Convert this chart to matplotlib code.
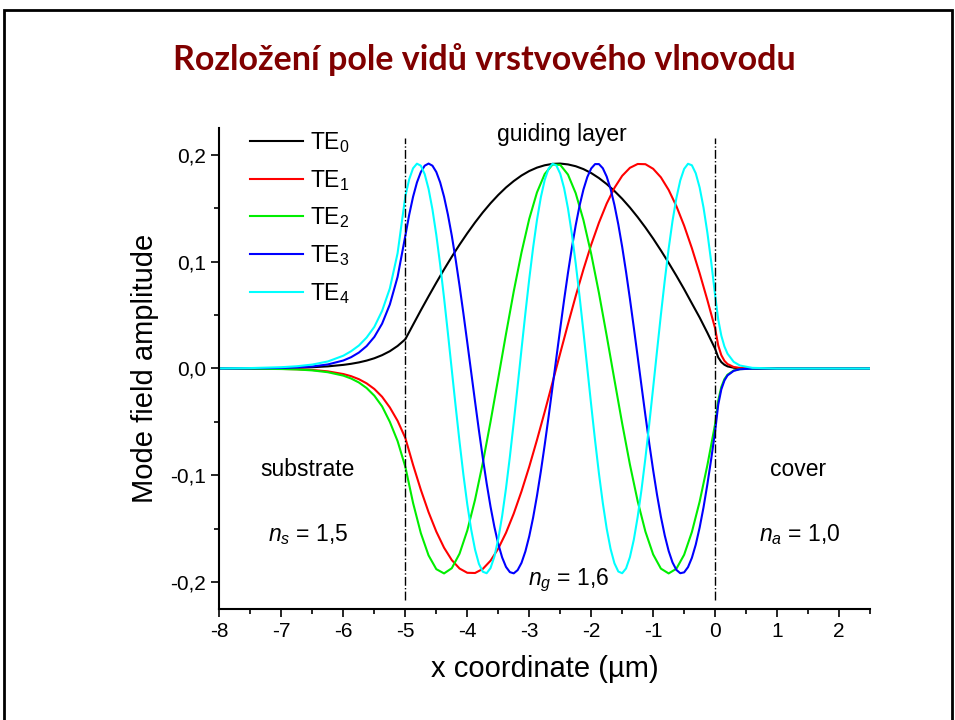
import matplotlib
matplotlib.use("Agg")
import matplotlib.pyplot as plt
from matplotlib.patches import Rectangle
from matplotlib.ticker import MultipleLocator
import numpy as np

# sample positions (um): substrate tail, guiding layer, cover tail
x_sub = [-8.0, -7.5, -7.0, -6.75, -6.5, -6.25, -6.0, -5.875, -5.75, -5.625,
         -5.5, -5.375, -5.25, -5.125]
x_core = [-5.0, -4.875, -4.75, -4.625, -4.5, -4.375, -4.25, -4.125, -4.0,
          -3.875, -3.75, -3.625, -3.5, -3.375, -3.25, -3.125, -3.0, -2.875,
          -2.75, -2.625, -2.5, -2.375, -2.25, -2.125, -2.0, -1.875, -1.75,
          -1.625, -1.5, -1.375, -1.25, -1.125, -1.0, -0.875, -0.75, -0.625,
          -0.5, -0.375, -0.25, -0.125, 0.0]
# finer spacing for the two highest modes
x_core_fine = [-5.0, -4.9375, -4.875, -4.8125, -4.75, -4.6875, -4.625, -4.5625,
               -4.5, -4.4375, -4.375, -4.3125, -4.25, -4.1875, -4.125, -4.0625,
               -4.0, -3.9375, -3.875, -3.8125, -3.75, -3.6875, -3.625, -3.5625,
               -3.5, -3.4375, -3.375, -3.3125, -3.25, -3.1875, -3.125, -3.0625,
               -3.0, -2.9375, -2.875, -2.8125, -2.75, -2.6875, -2.625, -2.5625,
               -2.5, -2.4375, -2.375, -2.3125, -2.25, -2.1875, -2.125, -2.0625,
               -2.0, -1.9375, -1.875, -1.8125, -1.75, -1.6875, -1.625, -1.5625,
               -1.5, -1.4375, -1.375, -1.3125, -1.25, -1.1875, -1.125, -1.0625,
               -1.0, -0.9375, -0.875, -0.8125, -0.75, -0.6875, -0.625, -0.5625,
               -0.5, -0.4375, -0.375, -0.3125, -0.25, -0.1875, -0.125, -0.0625,
               0.0]
x_cov = [0.05, 0.1, 0.15, 0.2, 0.3, 0.4, 0.6, 1.0, 2.5]

# mode amplitudes
te0_sub = [0.0001, 0.0002, 0.0004, 0.0007, 0.0012, 0.0020, 0.0034, 0.0044,
           0.0057, 0.0074, 0.0096, 0.0125, 0.0162, 0.0211]
te0_core = [0.0274, 0.0410, 0.0545, 0.0676, 0.0804, 0.0928, 0.1047, 0.1160,
            0.1267, 0.1368, 0.1462, 0.1548, 0.1626, 0.1696, 0.1756, 0.1808,
            0.1850, 0.1882, 0.1904, 0.1917, 0.1920, 0.1912, 0.1895, 0.1868,
            0.1831, 0.1784, 0.1728, 0.1663, 0.1590, 0.1508, 0.1418, 0.1321,
            0.1217, 0.1106, 0.0990, 0.0869, 0.0743, 0.0610, 0.0478, 0.0335,
            0.0185]
te0_cov = [0.0104, 0.0060, 0.0035, 0.0020, 0.0007, 0.0002, 0.0, 0.0, 0.0]

te1_sub = [0.0, -0.0001, -0.0004, -0.0007, -0.0014, -0.0027, -0.0052, -0.0072,
           -0.0100, -0.0139, -0.0192, -0.0265, -0.0365, -0.0490]
te1_core = [-0.0651, -0.0903, -0.1136, -0.1346, -0.1528, -0.1679, -0.1795,
            -0.1874, -0.1914, -0.1916, -0.1878, -0.1801, -0.1687, -0.1539,
            -0.1359, -0.1151, -0.0920, -0.0669, -0.0405, -0.0132, 0.0143,
            0.0415, 0.0679, 0.0929, 0.1160, 0.1366, 0.1545, 0.1692, 0.1805,
            0.1880, 0.1916, 0.1914, 0.1871, 0.1791, 0.1673, 0.1521, 0.1338,
            0.1127, 0.0893, 0.0641, 0.0376]
te1_cov = [0.0217, 0.0125, 0.0072, 0.0042, 0.0014, 0.0005, 0.0001, 0.0, 0.0]

te2_sub = [0.0, -0.0002, -0.0005, -0.0009, -0.0018, -0.0035, -0.0067, -0.0094,
           -0.0131, -0.0183, -0.0255, -0.0355, -0.0500, -0.0680]
te2_core = [-0.0921, -0.1260, -0.1542, -0.1751, -0.1880, -0.1920, -0.1871,
            -0.1735, -0.1518, -0.1230, -0.0886, -0.0499, -0.0090, 0.0324,
            0.0723, 0.1087, 0.1402, 0.1650, 0.1822, 0.1910, 0.1908, 0.1817,
            0.1642, 0.1390, 0.1073, 0.0707, 0.0307, -0.0106, -0.0515, -0.0900,
            -0.1243, -0.1528, -0.1742, -0.1875, -0.1920, -0.1876, -0.1745,
            -0.1532, -0.1248, -0.0906, -0.0521]
te2_cov = [-0.0301, -0.0173, -0.0100, -0.0058, -0.0019, -0.0006, -0.0001, 0.0, 0.0]

te3_sub = [0.0, 0.0001, 0.0005, 0.0010, 0.0019, 0.0038, 0.0075, 0.0106,
           0.0149, 0.0210, 0.0296, 0.0420, 0.0600, 0.0858]
te3_core = [0.1243, 0.1441, 0.1609, 0.1743, 0.1840, 0.1900, 0.1920, 0.1900,
            0.1841, 0.1743, 0.1609, 0.1441, 0.1244, 0.1020, 0.0775, 0.0515,
            0.0243, -0.0033, -0.0309, -0.0579, -0.0836, -0.1076, -0.1294,
            -0.1484, -0.1644, -0.1770, -0.1859, -0.1908, -0.1919, -0.1889,
            -0.1821, -0.1714, -0.1572, -0.1397, -0.1192, -0.0963, -0.0714,
            -0.0450, -0.0177, 0.0100, 0.0374, 0.0642, 0.0895, 0.1130, 0.1342,
            0.1526, 0.1677, 0.1794, 0.1874, 0.1915, 0.1915, 0.1876, 0.1798,
            0.1683, 0.1532, 0.1350, 0.1140, 0.0905, 0.0652, 0.0385, 0.0111,
            -0.0166, -0.0440, -0.0704, -0.0953, -0.1183, -0.1389, -0.1565,
            -0.1709, -0.1817, -0.1887, -0.1918, -0.1910, -0.1861, -0.1774,
            -0.1650, -0.1491, -0.1302, -0.1085, -0.0846, -0.0589]
te3_cov = [-0.0340, -0.0196, -0.0113, -0.0065, -0.0022, -0.0007, -0.0001, 0.0, 0.0]

te4_sub = [0.0001, 0.0004, 0.0012, 0.0021, 0.0037, 0.0066, 0.0120, 0.0162,
           0.0215, 0.0290, 0.0390, 0.0540, 0.0750, 0.1080]
te4_core = [0.1613, 0.1773, 0.1876, 0.1919, 0.1900, 0.1821, 0.1683, 0.1491,
            0.1251, 0.0972, 0.0661, 0.0329, -0.0014, -0.0356, -0.0687,
            -0.0996, -0.1273, -0.1508, -0.1696, -0.1830, -0.1904, -0.1918,
            -0.1870, -0.1762, -0.1597, -0.1382, -0.1122, -0.0826, -0.0503,
            -0.0165, 0.0179, 0.0517, 0.0838, 0.1133, 0.1392, 0.1605, 0.1767,
            0.1873, 0.1918, 0.1902, 0.1825, 0.1690, 0.1500, 0.1262, 0.0984,
            0.0674, 0.0343, 0.0000, -0.0343, -0.0674, -0.0984, -0.1261,
            -0.1500, -0.1690, -0.1825, -0.1902, -0.1918, -0.1873, -0.1767,
            -0.1605, -0.1391, -0.1133, -0.0839, -0.0517, -0.0179, 0.0165,
            0.0504, 0.0826, 0.1122, 0.1382, 0.1597, 0.1762, 0.1870, 0.1918,
            0.1904, 0.1829, 0.1696, 0.1509, 0.1273, 0.0996, 0.0687]
te4_cov = [0.0460, 0.0308, 0.0207, 0.0139, 0.0062, 0.0028, 0.0006, 0.0, 0.0]

mode_labels = ["TE$_0$", "TE$_1$", "TE$_2$", "TE$_3$", "TE$_4$"]
mode_colors = ["#000000", "#ff0000", "#00ee00", "#0000ff", "#00ffff"]

layer_edges = [-5.0, 0.0]
xticks = [-8, -7, -6, -5, -4, -3, -2, -1, 0, 1, 2]
yticks = [-0.2, -0.1, 0.0, 0.1, 0.2]
ytick_labels = ["-0,2", "-0,1", "0,0", "0,1", "0,2"]

plt.rcParams["font.family"] = ["Liberation Sans", "DejaVu Sans"]
plt.rcParams["mathtext.fontset"] = "custom"
plt.rcParams["mathtext.rm"] = "Liberation Sans"
plt.rcParams["mathtext.it"] = "Liberation Sans:italic"
plt.rcParams["axes.unicode_minus"] = False

fig = plt.figure(figsize=(9.55, 7.2), dpi=100)
fig.patches.append(Rectangle((4 / 955, -0.05), 948 / 955, 1.05 - 10 / 720,
                             transform=fig.transFigure, fill=False,
                             edgecolor="black", linewidth=2))
fig.text(0.507, 0.918, "Rozložení pole vidů vrstvového vlnovodu",
         ha="center", va="center", fontsize=24.5, fontweight="bold",
         color="#800000", family=["Lato", "DejaVu Sans"])

ax = fig.add_axes([0.2298, 0.1542, 0.6812, 0.668])

modes = [
    (x_core, te0_sub, te0_core, te0_cov),
    (x_core, te1_sub, te1_core, te1_cov),
    (x_core, te2_sub, te2_core, te2_cov),
    (x_core_fine, te3_sub, te3_core, te3_cov),
    (x_core_fine, te4_sub, te4_core, te4_cov),
]
for (xc, sub, core, cov), lab, col in zip(modes, mode_labels, mode_colors):
    xs = np.concatenate([x_sub, xc, x_cov])
    ys = np.concatenate([sub, core, cov])
    ax.plot(xs, ys, color=col, lw=1.5, label=lab)

for xe in layer_edges:
    ax.plot([xe, xe], [-0.217, 0.216], color="black", lw=1.0, ls="-.")

ax.set_xlim(-8, 2.5)
ax.set_ylim(-0.2253, 0.2253)
ax.set_xticks(xticks)
ax.set_xticklabels([str(t) for t in xticks])
ax.set_yticks(yticks)
ax.set_yticklabels(ytick_labels)
ax.xaxis.set_minor_locator(MultipleLocator(0.5))
ax.yaxis.set_minor_locator(MultipleLocator(0.05))
ax.tick_params(which="major", direction="out", length=6, width=1.2, labelsize=15)
ax.tick_params(which="minor", direction="out", length=3.5, width=1.2)
for side in ("top", "right"):
    ax.spines[side].set_visible(False)
for side in ("left", "bottom"):
    ax.spines[side].set_linewidth(1.5)

ax.set_xlabel("x coordinate (µm)", fontsize=21, labelpad=10)
ax.set_ylabel("Mode field amplitude", fontsize=21, labelpad=8)

ax.text(-2.475, 0.219, "guiding layer", ha="center", va="center", fontsize=16.5)
ax.text(-6.584, -0.095, "substrate", ha="center", va="center", fontsize=16.5)
ax.text(1.343, -0.095, "cover", ha="center", va="center", fontsize=16.5)
ax.text(-6.57, -0.156, "$n_s$ = 1,5", ha="center", va="center", fontsize=16.5)
ax.text(1.36, -0.156, "$n_a$ = 1,0", ha="center", va="center", fontsize=16.5)
ax.text(-2.36, -0.198, "$n_g$ = 1,6", ha="center", va="center", fontsize=16.5)

ax.legend(loc="upper left", bbox_to_anchor=(0.047, 0.996), frameon=False,
          fontsize=16.5, handlelength=2.3, handletextpad=0.3,
          labelspacing=0.56, borderpad=0, borderaxespad=0)

fig.savefig("out.png", dpi=100)
